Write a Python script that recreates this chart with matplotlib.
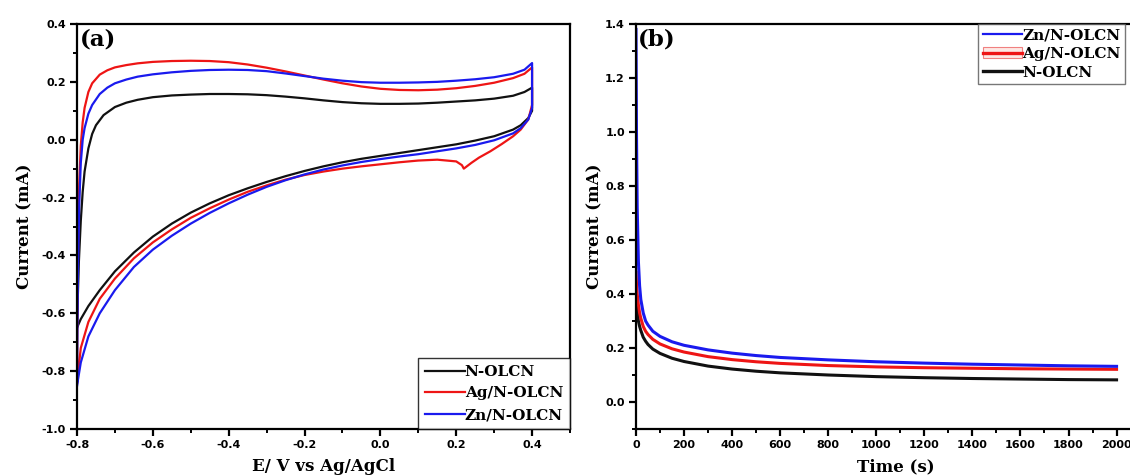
import matplotlib
matplotlib.use("Agg")
import matplotlib.pyplot as plt
from matplotlib.ticker import MultipleLocator, FormatStrFormatter
from matplotlib.lines import Line2D
from matplotlib.patches import Rectangle
from matplotlib.legend_handler import HandlerTuple

# ---------------- data: cyclic voltammetry (panel a) ----------------
labels_cv = ["N-OLCN", "Ag/N-OLCN", "Zn/N-OLCN"]

e_fwd_n = [-0.8, -0.798, -0.795, -0.79, -0.785, -0.78, -0.77, -0.76, -0.75, -0.73, -0.70, -0.67,
           -0.64, -0.60, -0.55, -0.50, -0.45, -0.40, -0.35, -0.30, -0.25, -0.20, -0.15, -0.10,
           -0.05, 0.0, 0.05, 0.10, 0.15, 0.20, 0.25, 0.30, 0.35, 0.38, 0.40]
i_fwd_n = [-0.65, -0.55, -0.42, -0.28, -0.18, -0.11, -0.03, 0.02, 0.05, 0.085, 0.113, 0.128,
           0.138, 0.147, 0.153, 0.156, 0.158, 0.158, 0.157, 0.154, 0.149, 0.143, 0.136, 0.130,
           0.126, 0.124, 0.124, 0.125, 0.128, 0.132, 0.136, 0.142, 0.152, 0.165, 0.18]
e_rev_n = [0.40, 0.40, 0.39, 0.37, 0.35, 0.30, 0.25, 0.20, 0.15, 0.10, 0.05, 0.0, -0.05, -0.10,
           -0.15, -0.20, -0.25, -0.30, -0.35, -0.40, -0.45, -0.50, -0.55, -0.60, -0.65, -0.70,
           -0.74, -0.77, -0.79, -0.80]
i_rev_n = [0.18, 0.10, 0.075, 0.05, 0.035, 0.012, -0.003, -0.016, -0.026, -0.036, -0.046, -0.056,
           -0.066, -0.078, -0.092, -0.108, -0.126, -0.146, -0.168, -0.192, -0.22, -0.252, -0.29,
           -0.335, -0.39, -0.455, -0.52, -0.575, -0.62, -0.65]

e_fwd_ag = [-0.8, -0.799, -0.797, -0.794, -0.79, -0.785, -0.78, -0.77, -0.76, -0.74, -0.72, -0.70,
            -0.67, -0.64, -0.60, -0.55, -0.50, -0.45, -0.40, -0.35, -0.30, -0.25, -0.20, -0.15,
            -0.10, -0.05, 0.0, 0.05, 0.10, 0.15, 0.20, 0.25, 0.30, 0.35, 0.38, 0.40]
i_fwd_ag = [-0.84, -0.6, -0.35, -0.15, -0.02, 0.06, 0.11, 0.165, 0.195, 0.225, 0.24, 0.25,
            0.258, 0.264, 0.269, 0.272, 0.273, 0.272, 0.268, 0.26, 0.249, 0.236, 0.222, 0.208,
            0.195, 0.184, 0.176, 0.172, 0.171, 0.173, 0.178, 0.186, 0.197, 0.213, 0.228, 0.25]
e_rev_ag = [0.40, 0.40, 0.39, 0.37, 0.35, 0.32, 0.29, 0.26, 0.24, 0.225, 0.22, 0.215, 0.20, 0.15,
            0.10, 0.05, 0.0, -0.05, -0.10, -0.15, -0.20, -0.25, -0.30, -0.35, -0.40, -0.45, -0.50,
            -0.55, -0.60, -0.65, -0.70, -0.74, -0.77, -0.79, -0.80]
i_rev_ag = [0.25, 0.12, 0.07, 0.035, 0.012, -0.015, -0.04, -0.062, -0.08, -0.095, -0.1, -0.088,
            -0.075, -0.069, -0.072, -0.078, -0.085, -0.092, -0.1, -0.11, -0.122, -0.138, -0.158,
            -0.18, -0.207, -0.237, -0.27, -0.31, -0.355, -0.41, -0.48, -0.55, -0.63, -0.72, -0.84]

e_fwd_zn = [-0.8, -0.799, -0.797, -0.794, -0.79, -0.785, -0.78, -0.77, -0.76, -0.74, -0.72, -0.70,
            -0.67, -0.64, -0.60, -0.55, -0.50, -0.45, -0.40, -0.35, -0.30, -0.25, -0.20, -0.15,
            -0.10, -0.05, 0.0, 0.05, 0.10, 0.15, 0.20, 0.25, 0.30, 0.35, 0.38, 0.40]
i_fwd_zn = [-0.85, -0.65, -0.42, -0.22, -0.08, 0.0, 0.04, 0.09, 0.12, 0.158, 0.18, 0.195,
            0.208, 0.218, 0.226, 0.233, 0.238, 0.241, 0.242, 0.241, 0.237, 0.229, 0.22, 0.211,
            0.204, 0.199, 0.197, 0.197, 0.198, 0.2, 0.204, 0.209, 0.216, 0.228, 0.242, 0.265]
e_rev_zn = [0.40, 0.40, 0.39, 0.37, 0.35, 0.30, 0.25, 0.20, 0.15, 0.10, 0.05, 0.0, -0.05, -0.10,
            -0.15, -0.20, -0.25, -0.30, -0.35, -0.40, -0.45, -0.50, -0.55, -0.60, -0.65, -0.70,
            -0.74, -0.77, -0.79, -0.80]
i_rev_zn = [0.265, 0.11, 0.07, 0.04, 0.022, -0.002, -0.018, -0.03, -0.04, -0.05, -0.058, -0.067,
            -0.077, -0.089, -0.103, -0.12, -0.14, -0.163, -0.19, -0.22, -0.253, -0.29, -0.332,
            -0.38, -0.44, -0.52, -0.6, -0.68, -0.77, -0.85]

# ---------------- data: chronoamperometry (panel b) ----------------
labels_ca = ["Zn/N-OLCN", "Ag/N-OLCN", "N-OLCN"]
time_s = [0, 2, 5, 10, 15, 20, 30, 40, 50, 70, 100, 150, 200, 300, 400, 500, 600, 800,
          1000, 1200, 1400, 1600, 1800, 2000]
ca_zn = [1.38, 1.0, 0.72, 0.52, 0.43, 0.38, 0.33, 0.30, 0.285, 0.262, 0.243, 0.223, 0.21,
         0.193, 0.181, 0.172, 0.165, 0.156, 0.149, 0.144, 0.14, 0.137, 0.134, 0.132]
ca_ag = [0.48, 0.44, 0.40, 0.36, 0.33, 0.31, 0.28, 0.262, 0.25, 0.232, 0.215, 0.197, 0.185,
         0.168, 0.157, 0.149, 0.143, 0.135, 0.13, 0.127, 0.125, 0.123, 0.122, 0.121]
ca_n = [0.42, 0.38, 0.34, 0.30, 0.28, 0.265, 0.24, 0.225, 0.213, 0.196, 0.18, 0.162, 0.15,
        0.133, 0.122, 0.114, 0.108, 0.10, 0.094, 0.09, 0.087, 0.085, 0.083, 0.082]

BLACK = "#111111"
RED = "#ee1515"
BLUE = "#1a1aee"

SERIF = ["DejaVu Serif"]
SANS = ["DejaVu Sans"]

plt.rcParams["font.family"] = SANS

W, H = 1130, 475
fig = plt.figure(figsize=(W / 100, H / 100), dpi=100)
ax1 = fig.add_axes([77 / W, 46 / H, (570 - 77) / W, 405 / H])
ax2 = fig.add_axes([636 / W, 46 / H, (1155 - 636) / W, 405 / H])


def style_axes(ax):
    for sp in ax.spines.values():
        sp.set_linewidth(1.6)
    ax.tick_params(which="major", direction="out", length=5, width=1.6,
                   labelsize=8, pad=3)
    ax.tick_params(which="minor", direction="out", length=3, width=1.4)
    for lab in ax.get_xticklabels() + ax.get_yticklabels():
        lab.set_fontweight("bold")
        lab.set_family(SANS)


LABEL_FONT = {"family": SERIF, "weight": "bold", "size": 12}
LEGEND_FONT = {"family": SERIF, "weight": "bold", "size": 11}

# ---- panel (a): CV loops ----
lw = 1.6
ax1.plot(e_fwd_n + e_rev_n, i_fwd_n + i_rev_n, color=BLACK, lw=lw, label=labels_cv[0])
ax1.plot(e_fwd_ag + e_rev_ag, i_fwd_ag + i_rev_ag, color=RED, lw=lw, label=labels_cv[1])
ax1.plot(e_fwd_zn + e_rev_zn, i_fwd_zn + i_rev_zn, color=BLUE, lw=lw, label=labels_cv[2])
ax1.set_xlim(-0.8, 0.5)
ax1.set_ylim(-1.0, 0.4)
ax1.xaxis.set_major_locator(MultipleLocator(0.2))
ax1.xaxis.set_minor_locator(MultipleLocator(0.1))
ax1.yaxis.set_major_locator(MultipleLocator(0.2))
ax1.yaxis.set_minor_locator(MultipleLocator(0.1))
ax1.xaxis.set_major_formatter(FormatStrFormatter("%.1f"))
ax1.yaxis.set_major_formatter(FormatStrFormatter("%.1f"))
style_axes(ax1)
ax1.set_xlabel("E/ V vs Ag/AgCl", fontdict=LABEL_FONT, labelpad=6)
ax1.set_ylabel("Current (mA)", fontdict=LABEL_FONT, labelpad=6)
ax1.text(0.006, 0.99, "(a)", transform=ax1.transAxes, family=SERIF, fontweight="bold",
         fontsize=16.5, va="top", ha="left")
leg1 = ax1.legend(loc="lower right", bbox_to_anchor=(1.0, 0.0), frameon=True, fancybox=False,
                  borderaxespad=0, handlelength=2.6, handletextpad=0.0, labelspacing=0.5,
                  borderpad=0.45, prop=LEGEND_FONT)
leg1.get_frame().set_edgecolor("black")
leg1.get_frame().set_linewidth(1.0)

# ---- panel (b): current-time transients ----
lw2 = 2.2
ax2.plot(time_s, ca_n, color=BLACK, lw=lw2)
ax2.plot(time_s, ca_ag, color=RED, lw=lw2)
ax2.plot(time_s, ca_zn, color=BLUE, lw=lw2)
ax2.set_xlim(0, 2160)
ax2.set_ylim(-0.1, 1.4)
ax2.xaxis.set_major_locator(MultipleLocator(200))
ax2.xaxis.set_minor_locator(MultipleLocator(100))
ax2.yaxis.set_major_locator(MultipleLocator(0.2))
ax2.yaxis.set_minor_locator(MultipleLocator(0.1))
ax2.yaxis.set_major_formatter(FormatStrFormatter("%.1f"))
style_axes(ax2)
ax2.set_xlabel("Time (s)", fontdict=LABEL_FONT, labelpad=6)
ax2.set_ylabel("Current (mA)", fontdict=LABEL_FONT, labelpad=1)
ax2.text(0.004, 0.99, "(b)", transform=ax2.transAxes, family=SERIF, fontweight="bold",
         fontsize=16.5, va="top", ha="left")

h_zn = Line2D([], [], color=BLUE, lw=1.6)
h_ag = (Rectangle((0, 0), 1, 1, facecolor="#fde8e4", edgecolor="#f08080", lw=0.8),
        Line2D([], [], color=RED, lw=2.4))
h_n = Line2D([], [], color=BLACK, lw=2.4)
leg2 = ax2.legend([h_zn, h_ag, h_n], labels_ca,
                  handler_map={tuple: HandlerTuple(ndivide=1, pad=0)},
                  loc="upper left", bbox_to_anchor=((978 - 636) / (1155 - 636), 1.0),
                  frameon=True, fancybox=False, borderaxespad=0, handlelength=2.6,
                  handletextpad=0.0, labelspacing=0.3, borderpad=0.3, prop=LEGEND_FONT)
leg2.get_frame().set_edgecolor("#555555")
leg2.get_frame().set_linewidth(1.0)

fig.savefig("out.png", dpi=100)
